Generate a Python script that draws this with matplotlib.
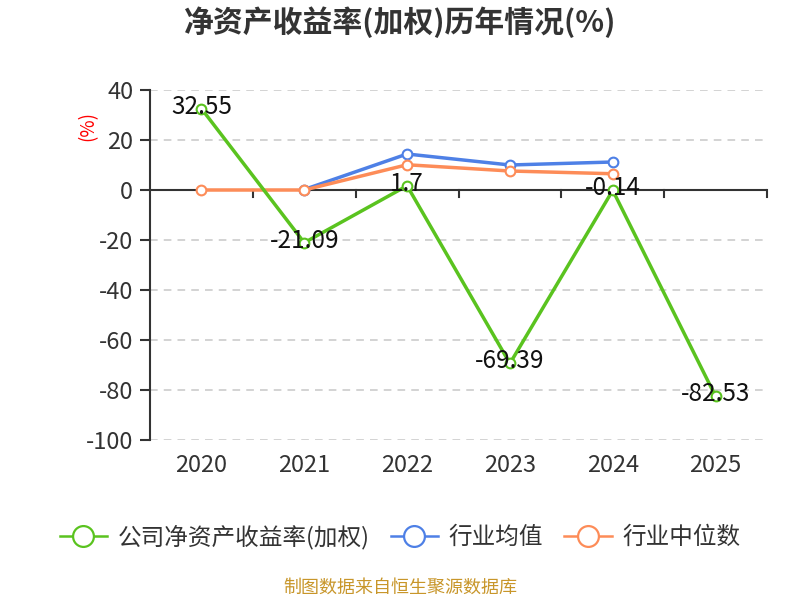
import matplotlib
matplotlib.use("Agg")
import matplotlib.pyplot as plt
import matplotlib.transforms as mtrans

plt.rcParams['font.family'] = ['Noto Sans CJK SC', 'DejaVu Sans']
plt.rcParams['axes.unicode_minus'] = False

years = ['2020', '2021', '2022', '2023', '2024', '2025']
company = [32.55, -21.09, 1.7, -69.39, -0.14, -82.53]
ind_mean = [None, 0.2, 14.4, 10.0, 11.2]
ind_median = [0.0, 0.0, 10.1, 7.6, 6.5]
labels = ['32.55', '-21.09', '1.7', '-69.39', '-0.14', '-82.53']
yticks = [40, 20, 0, -20, -40, -60, -80, -100]

c_green = '#5ac31f'
c_blue = '#4e80e6'
c_orange = '#fd8c58'

fig = plt.figure(figsize=(8, 6), dpi=100)
ax = fig.add_axes([150/800, 1-440/600, (767-150)/800, (440-90)/600])

x = list(range(len(years)))

def plot_series(vals, color, label, z):
    xs = [i for i, v in enumerate(vals) if v is not None]
    ys = [v for v in vals if v is not None]
    ax.plot(xs, ys, color=color, lw=2.5, marker='o', markersize=7,
            markerfacecolor='white', markeredgecolor=color, markeredgewidth=1.5,
            label=label, zorder=z, solid_joinstyle='round')

plot_series(ind_mean, c_blue, '行业均值', 3)
plot_series(ind_median, c_orange, '行业中位数', 4)
plot_series(company, c_green, '公司净资产收益率(加权)', 5)

for i, (v, t) in enumerate(zip(company, labels)):
    ax.text(i, v + 0.8, t, ha='center', va='center', fontsize=17.5,
            color='#111111', zorder=6)

ax.set_xlim(-0.5, len(years) - 0.5)
ax.set_ylim(-100, 40)
ax.set_yticks(yticks)
ax.set_yticklabels([str(v) for v in yticks])
ax.set_xticks(x)
ax.set_xticklabels([])
ax.tick_params(axis='y', labelsize=17, colors='#333333', length=7, width=1.5, pad=5)
ax.tick_params(axis='x', length=0)

off = mtrans.offset_copy(ax.transData, fig=fig, x=0, y=-25, units='dots')
for i, yr in enumerate(years):
    ax.text(i, -100, yr, transform=off, ha='center', va='center',
            fontsize=17, color='#333333')

for v in yticks:
    if v != 0:
        ax.axhline(v, color='#c8c8c8', lw=1.1, ls=(0, (5, 4)), zorder=1)

for s in ['top', 'right', 'bottom']:
    ax.spines[s].set_visible(False)
ax.spines['left'].set_color('#333333')
ax.spines['left'].set_linewidth(1.5)

ax.axhline(0, color='#333333', lw=1.5, zorder=2)
for b in range(1, len(years) + 1):
    ax.plot([b - 0.5, b - 0.5], [0, -2.6], color='#333333', lw=1.5, zorder=2, clip_on=False)

fig.text(88/800, 1-126/600, '(%)', rotation=90, color='red', fontsize=13.5,
         ha='center', va='center')

fig.text(0.5, 1-22/600, '净资产收益率(加权)历年情况(%)', ha='center', va='center',
         fontsize=21.5, fontweight='bold', color='#333333')

handles, lbls = ax.get_legend_handles_labels()
order = [2, 0, 1]
leg = fig.legend([handles[i] for i in order], [lbls[i] for i in order],
                 loc='center', bbox_to_anchor=(0.5, 1-537/600), ncol=3,
                 frameon=False, fontsize=17, handlelength=2.0, columnspacing=0.9,
                 handletextpad=0.45, labelcolor='#333333')
for h in leg.legend_handles:
    h.set_markersize(15)
    h.set_linewidth(1.8)
    h.set_markeredgewidth(1.6)

fig.text(0.5, 1-588/600, '制图数据来自恒生聚源数据库', ha='center', va='center',
         fontsize=13, color='#c8962a')

fig.savefig('out.png', dpi=100)
